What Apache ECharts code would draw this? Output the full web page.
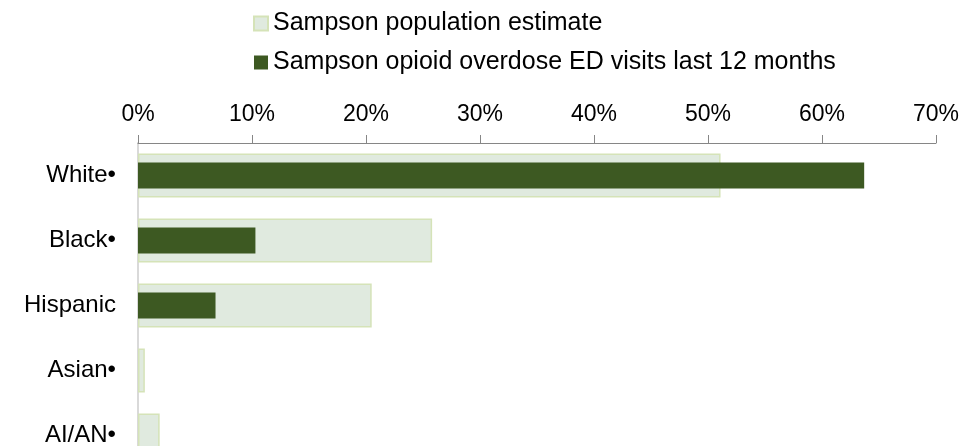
<!DOCTYPE html>
<html><head><meta charset="utf-8">
<script src="https://cdn.jsdelivr.net/npm/echarts@6/dist/echarts.min.js"></script>
<style>html,body{margin:0;padding:0;background:#fff;overflow:hidden}#c{width:977px;height:468px}</style>
</head><body><div id="c"></div>
<script>
var categories = ['White\u2022', 'Black\u2022', 'Hispanic', 'Asian\u2022', 'AI/AN\u2022'];
var populationEstimate = [51.1, 25.8, 20.5, 0.6, 1.9];
var edVisits = [63.7, 10.3, 6.8, 0, 0];
var seriesNames = ['Sampson population estimate', 'Sampson opioid overdose ED visits last 12 months'];

var chart = echarts.init(document.getElementById('c'));
var font = 'Liberation Sans, Arial, sans-serif';
chart.setOption({
  animation: false,
  textStyle: {fontFamily: font},
  legend: {
    orient: 'vertical', left: 248, top: 6, itemWidth: 14, itemHeight: 14, itemGap: 14,
    icon: 'rect',
    textStyle: {fontSize: 25, color: '#000', fontFamily: font},
    data: seriesNames
  },
  grid: {left: 138, top: 143, right: 41, bottom: 0},
  xAxis: {
    type: 'value', position: 'top', min: 0, max: 70, interval: 10,
    axisLabel: {formatter: '{value}%', fontSize: 23, color: '#000', margin: 17, fontFamily: font},
    axisLine: {show: true, lineStyle: {color: '#868686', width: 1}},
    axisTick: {show: true, length: 8, lineStyle: {color: '#868686'}},
    splitLine: {show: false}
  },
  yAxis: [{
    type: 'category', inverse: true, data: categories,
    axisLabel: {fontSize: 24, color: '#000', margin: 22, fontFamily: font},
    axisLine: {lineStyle: {color: '#d9d9d9', width: 2}},
    axisTick: {show: false}
  }, {
    type: 'category', inverse: true, data: categories, show: false
  }],
  series: [
    {name: seriesNames[0], type: 'bar', data: populationEstimate, barWidth: 44, yAxisIndex: 0,
     itemStyle: {color: '#e0eadf', borderColor: '#d5e3b8', borderWidth: 1.5}},
    {name: seriesNames[1], type: 'bar', data: edVisits, barWidth: 26, yAxisIndex: 1,
     itemStyle: {color: '#3d5922', borderWidth: 0}}
  ]
});
</script></body></html>
